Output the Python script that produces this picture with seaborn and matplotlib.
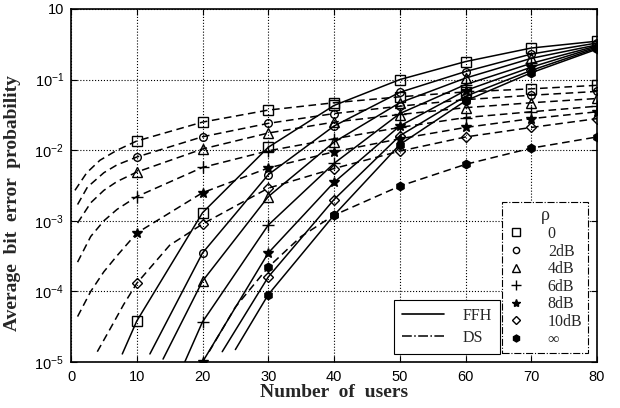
import matplotlib
matplotlib.use('Agg')
import matplotlib.pyplot as plt
from matplotlib.lines import Line2D
import seaborn as sns
import numpy as np

nan = np.nan

# marker positions (number of users)
users = [10, 20, 30, 40, 50, 60, 70, 80]
rho_labels = ['0', '2dB', '4dB', '6dB', '8dB', '10dB', '\u221e']

# FFH, average bit error probability at the marker positions
ffh_ber = [
    [3.8e-5, 1.3e-3, 1.1e-2, 4.3e-2, 0.100, 0.180, 0.280, 0.350],
    [nan, 3.5e-4, 4.5e-3, 2.2e-2, 0.066, 0.130, 0.230, 0.330],
    [nan, 1.4e-4, 2.2e-3, 1.3e-2, 0.047, 0.105, 0.200, 0.310],
    [nan, 3.7e-5, 8.7e-4, 6.5e-3, 0.033, 0.085, 0.170, 0.300],
    [nan, 1.0e-5, 3.5e-4, 3.5e-3, 0.022, 0.070, 0.150, 0.290],
    [nan, nan, 1.6e-4, 2.0e-3, 0.016, 0.058, 0.135, 0.280],
    [nan, nan, 9.0e-5, 1.2e-3, 0.012, 0.050, 0.125, 0.270],
]
# where each FFH curve enters at the bottom of the plot
ffh_start_x = [7.8, 12.0, 14.0, 17.3, 19.0, 23.0, 25.0]
ffh_start_y = [1.3e-5, 1.3e-5, 1.1e-5, 1.0e-5, 7.0e-6, 1.4e-5, 1.5e-5]

# DS, average bit error probability at the marker positions
ds_ber = [
    [0.0135, 0.025, 0.037, 0.047, 0.057, 0.067, 0.074, 0.083],
    [0.0080, 0.0155, 0.024, 0.033, 0.042, 0.052, 0.060, 0.068],
    [0.0049, 0.0104, 0.0175, 0.025, 0.032, 0.040, 0.047, 0.054],
    [0.0022, 0.0057, 0.0098, 0.0145, 0.021, 0.029, 0.035, 0.042],
    [0.00067, 0.0025, 0.0056, 0.0095, 0.0145, 0.021, 0.028, 0.035],
    [1.3e-4, 9.0e-4, 0.0029, 0.0055, 0.0097, 0.0154, 0.021, 0.028],
    [nan, nan, 2.2e-4, 0.0012, 0.0031, 0.0063, 0.0107, 0.0154],
]
ds_extra_x = [
    [0.6, 2.4, 4.4, 7.0],
    [1.0, 2.5, 5.0, 7.0],
    [1.0, 3.0, 5.0, 7.0],
    [1.0, 3.0, 5.0, 7.0],
    [1.0, 3.0, 5.0, 7.0],
    [4.0, 6.0, 8.0, 15.0],
    [21.0, 25.0, 35.0],
]
ds_extra_y = [
    [0.0027, 0.0048, 0.0072, 0.0100],
    [0.0017, 0.0030, 0.0048, 0.0062],
    [0.00093, 0.0018, 0.0027, 0.0036],
    [2.6e-4, 6.0e-4, 1.0e-3, 1.45e-3],
    [4.4e-5, 1.0e-4, 1.9e-4, 3.2e-4],
    [1.4e-5, 3.0e-5, 6.5e-5, 4.5e-4],
    [1.4e-5, 6.0e-5, 6.0e-4],
]

markers = ['s', 'o', '^', '+', '*', 'D', 'h']
msizes = [6.5, 5.5, 6.5, 8, 7, 5, 6]
open_mk = [True, True, True, False, False, True, False]

sns.set_style('ticks')
plt.rcParams['font.family'] = ['Liberation Sans', 'DejaVu Sans']
plt.rcParams['mathtext.fontset'] = 'custom'
plt.rcParams['mathtext.rm'] = 'Liberation Sans'
serif = ['Liberation Serif', 'DejaVu Serif']

fig = plt.figure(figsize=(6.2, 4.08), dpi=100)
ax = fig.add_axes([71 / 620, 1 - 362 / 408, 526 / 620, 353 / 408])


def draw(xs, ys, mark_x, ls, i):
    order = np.argsort(xs)
    xs = np.asarray(xs)[order]
    ys = np.asarray(ys)[order]
    ok = ~np.isnan(ys)
    xs, ys = xs[ok], ys[ok]
    every = [k for k, v in enumerate(xs) if v in mark_x]
    sns.lineplot(x=xs, y=ys, ax=ax, estimator=None, sort=False,
                 color='k', linewidth=1.1, linestyle=ls,
                 marker=markers[i], markersize=msizes[i], markevery=every,
                 mfc='none' if open_mk[i] else 'k', mec='k', mew=1.0,
                 clip_on=True)


for i in range(7):
    draw([ffh_start_x[i]] + users, [ffh_start_y[i]] + ffh_ber[i], users, '-', i)
    draw(ds_extra_x[i] + users, ds_extra_y[i] + ds_ber[i], users, (0, (5, 3)), i)

ax.set_yscale('log')
ax.set_xlim(0, 80)
ax.set_ylim(1e-5, 1)
ax.set_xticks([0, 10, 20, 30, 40, 50, 60, 70, 80])
ax.set_yticks([1e-5, 1e-4, 1e-3, 1e-2, 1e-1, 1])
ax.set_yticklabels(['$\\mathregular{10^{-5}}$', '$\\mathregular{10^{-4}}$',
                    '$\\mathregular{10^{-3}}$', '$\\mathregular{10^{-2}}$',
                    '$\\mathregular{10^{-1}}$', '10'])
ax.minorticks_off()
ax.tick_params(direction='in', top=True, right=True, labelsize=10.5,
               length=4, width=0.8, colors='k')
ax.tick_params(axis='x', pad=6)
ax.tick_params(axis='y', pad=5)
ax.grid(True, which='major', linestyle=':', color='k', linewidth=0.8)
for sp in ax.spines.values():
    sp.set_color('k')
    sp.set_linewidth(1.2)

ax.set_xlabel('Number  of  users', fontsize=14, fontweight='bold',
              family=serif, labelpad=0)
ax.set_ylabel('Average  bit  error  probability', fontsize=14,
              fontweight='bold', family=serif)
ax.yaxis.set_label_coords(-0.095, 0.45)

mk_handles = [Line2D([], [], linestyle='none', marker=markers[i],
                     markersize=msizes[i] - 1,
                     mfc='none' if open_mk[i] else 'k', mec='k', mew=1.0)
              for i in range(7)]
leg1 = ax.legend(mk_handles, rho_labels, title='\u03c1', loc='lower right',
                 bbox_to_anchor=(0.983, 0.025), fancybox=False,
                 edgecolor='k', framealpha=1, labelspacing=0.1,
                 handlelength=1.0, handletextpad=1.5, borderpad=0.35,
                 borderaxespad=0, prop={'family': serif, 'size': 11.5},
                 title_fontproperties={'family': serif, 'size': 13})
leg1.get_frame().set_linestyle('-.')
leg1.get_frame().set_linewidth(0.8)
ax.add_artist(leg1)

ls_handles = [Line2D([], [], color='k', linewidth=1.2, linestyle='-'),
              Line2D([], [], color='k', linewidth=1.1, linestyle='-.')]
leg2 = ax.legend(ls_handles, ['FFH', 'DS'], loc='lower right',
                 bbox_to_anchor=(0.816, 0.023), fancybox=False,
                 edgecolor='k', framealpha=1, labelspacing=0.4,
                 handlelength=2.6, handletextpad=1.2, borderpad=0.5,
                 borderaxespad=0, prop={'family': serif, 'size': 11.5})
leg2.get_frame().set_linewidth(0.8)

fig.savefig('out.png', dpi=100)
